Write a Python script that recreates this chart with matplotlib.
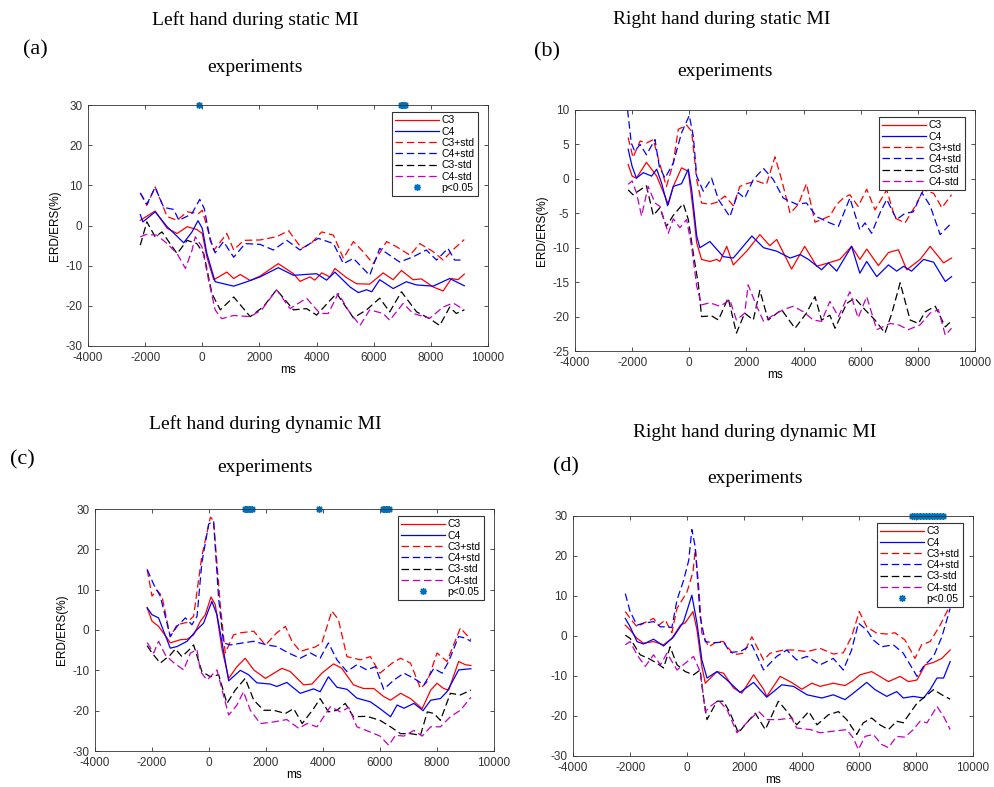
import matplotlib
matplotlib.use("Agg")
import matplotlib.pyplot as plt

# ---- panel (a): left hand, static MI ----
a_c3_t = [-2170, -1650, -1230, -880, -530, -190, 0, 160, 400, 860, 1100, 1330, 1680, 2020, 2660, 3190, 3420, 3770, 3940, 4180,
          4470, 4640, 5050, 5400, 5860, 6330, 6680, 6970, 7380, 7670, 8080, 8430, 8720, 8950, 9170]
a_c3 = [1.3, 3.6, -0.7, -2.0, -0.3, -1.0, -2.0, -7.8, -13.5, -11.6, -13.2, -12.2, -13.7, -12.6, -9.5, -12.0, -13.9, -12.8, -13.6, -11.8,
        -12.8, -10.7, -13.0, -14.5, -14.6, -11.8, -13.5, -11.2, -13.5, -13.3, -15.3, -16.3, -13.2, -13.5, -12.1]
a_c4_t = [-2170, -2080, -1650, -1230, -650, -360, -150, 0, 160, 450, 1100, 1560, 2020, 2660, 3190, 4000, 4350, 4640, 5170, 5460,
          5750, 5930, 6210, 6680, 7140, 7500, 8080, 8660, 9170]
a_c4 = [2.7, 0.9, 3.4, -0.3, -4.3, -1.6, 1.2, -0.7, -7.0, -14.0, -15.1, -14.0, -12.8, -10.5, -12.4, -12.0, -13.6, -11.6, -15.3, -16.7,
        -16.0, -16.5, -13.5, -15.7, -14.0, -14.8, -15.1, -13.2, -15.0]
a_c3p_t = [-2170, -1940, -1650, -1230, -880, -530, -130, 0, 400, 860, 1100, 1450, 2020, 2600, 3020, 3480, 3830, 4180, 4590, 4940,
           5290, 5640, 5980, 6450, 6800, 7270, 7610, 8080, 8430, 8780, 9170]
a_c3p = [8.1, 5.0, 9.6, 2.2, 1.3, 3.4, 3.0, 3.8, -6.2, -2.0, -6.1, -3.7, -3.6, -2.8, -1.3, -5.7, -4.3, -1.6, -2.4, -8.2,
         -4.0, -6.6, -9.5, -4.0, -5.3, -7.4, -4.5, -6.5, -8.6, -6.0, -3.5]
a_c4p_t = [-2170, -1940, -1650, -1350, -1000, -820, -530, -360, -90, 70, 280, 450, 740, 1100, 1500, 2020, 2490, 2960, 3420, 4060,
           4590, 4940, 5290, 5860, 6210, 6910, 7380, 7840, 8200, 8600, 8830, 9170]
a_c4p = [8.1, 5.3, 9.5, 4.5, 4.0, 1.3, 2.3, 3.0, 6.5, 4.2, -3.7, -6.8, -4.0, -7.9, -4.5, -4.7, -6.1, -3.7, -6.1, -3.2,
         -4.5, -9.5, -8.2, -12.4, -5.7, -9.1, -7.8, -6.1, -8.6, -5.7, -8.6, -8.6]
a_c3m_t = [-2170, -1940, -1650, -1410, -880, -530, -190, 50, 340, 630, 1100, 1680, 2140, 2600, 3190, 3650, 4000, 4700, 5290, 5750,
           6210, 6560, 6970, 7500, 7960, 8310, 8660, 8890, 9170]
a_c3m = [-4.9, 0.9, -2.8, -1.6, -7.0, -3.7, -4.5, -7.0, -17.0, -21.0, -17.8, -22.7, -20.2, -16.0, -21.0, -20.7, -22.3, -16.9, -23.0, -21.0,
         -18.1, -21.5, -16.5, -21.5, -23.2, -24.9, -20.3, -21.9, -21.0]
a_c4m_t = [-2170, -1940, -1590, -1230, -880, -590, -360, -245, -10, 220, 450, 680, 1100, 1680, 2080, 2600, 3070, 3650, 4120, 4410,
           4760, 5110, 5520, 5860, 6330, 6560, 7030, 7380, 7960, 8430, 8780, 9170]
a_c4m = [-2.8, -2.2, -2.4, -4.5, -7.0, -10.7, -6.2, -2.8, -5.3, -13.6, -21.0, -23.2, -22.4, -22.7, -21.0, -16.0, -20.7, -18.1, -21.9, -21.9,
         -16.9, -21.1, -24.9, -21.0, -21.9, -23.6, -19.4, -21.9, -23.1, -20.3, -19.3, -21.0]
a_p = [-100, 6950, 7000, 7050, 7100]

# ---- panel (b): right hand, static MI ----
b_c3_t = [-2140, -2000, -1850, -1500, -1140, -735, -560, -270, -35, 120, 260, 430, 720, 960, 1070, 1310, 1540, 2010, 2470, 2820,
          3060, 3580, 4040, 4460, 4870, 5270, 5680, 5970, 6210, 6620, 6970, 7320, 7610, 8080, 8430, 8900, 9180]
b_c3 = [2.1, 0.4, 0.1, 2.4, 0.4, -3.7, -1.1, 1.6, 1.1, -4.0, -9.3, -11.7, -12.0, -11.7, -12.0, -9.8, -12.5, -10.5, -8.1, -9.7,
        -8.8, -13.1, -9.8, -12.7, -12.2, -11.7, -9.8, -11.7, -10.2, -12.6, -10.7, -10.3, -13.2, -11.7, -9.8, -12.2, -11.5]
b_c4_t = [-2140, -2000, -1850, -1610, -1320, -1140, -970, -760, -560, -270, -35, 80, 260, 370, 720, 1190, 1540, 2190, 2600, 3060,
          3530, 3880, 4170, 4630, 4870, 5160, 5680, 5970, 6210, 6560, 6970, 7260, 7500, 7780, 8200, 8550, 8960, 9180]
b_c4 = [4.3, 1.8, 0.1, 0.9, 0.4, 1.4, -0.6, -3.9, -1.1, -0.7, 1.4, -1.5, -8.3, -10.0, -9.1, -11.3, -11.5, -8.3, -10.0, -10.5,
        -11.5, -11.0, -11.7, -13.2, -12.2, -13.4, -9.8, -13.7, -12.0, -14.2, -12.5, -13.4, -12.7, -13.4, -11.7, -12.1, -14.9, -14.2]
b_c3p_t = [-2140, -1970, -1720, -1500, -1260, -1030, -800, -560, -385, -95, 80, 260, 430, 720, 960, 1250, 1540, 1770, 2010, 2360,
           2700, 3000, 3230, 3530, 3820, 4100, 4400, 4920, 5160, 5390, 5620, 5910, 6210, 6500, 6910, 7200, 7550, 7900, 8200, 8550,
           8840, 9180]
b_c3p = [6.0, 3.1, 5.5, 5.2, 5.7, 2.1, -1.1, 2.3, 7.2, 7.8, 6.9, -0.1, -3.5, -3.7, -3.4, -2.5, -3.9, -1.1, -0.7, -0.3,
         -0.8, 3.2, -0.1, -5.0, -3.7, -0.7, -6.3, -5.4, -3.7, -2.8, -2.3, -4.0, -1.5, -4.5, -1.6, -5.7, -6.4, -4.0, -1.6, -2.1,
         -4.2, -2.3]
b_c4p_t = [-2160, -2030, -1910, -1720, -1500, -1200, -1050, -850, -560, -270, 0, 140, 260, 490, 780, 1020, 1420, 1710, 1940, 2240,
           2600, 2940, 3290, 3760, 4100, 4460, 4920, 5220, 5620, 5970, 6150, 6380, 6680, 6910, 7260, 7550, 7840, 8140, 8430, 8780,
           9180]
b_c4p = [10.0, 5.2, 4.0, 5.0, 3.5, 5.7, 1.8, 0.1, 2.3, 6.7, 9.2, 6.2, 0.4, -1.8, 0.1, -3.0, -5.5, -2.0, -2.8, -0.1,
         1.5, -0.1, -2.8, -3.7, -3.5, -5.5, -6.4, -6.9, -2.8, -7.4, -6.4, -7.9, -4.9, -3.0, -5.9, -5.0, -4.8, -2.0, -3.9, -8.1,
         -6.4]
b_c3m_t = [-2140, -1970, -1720, -1500, -1260, -1030, -800, -560, -210, -35, 140, 320, 430, 780, 1020, 1360, 1650, 1940, 2240, 2470,
           2760, 3230, 3700, 4100, 4400, 4630, 4920, 5100, 5510, 5790, 6150, 6500, 6850, 7090, 7380, 7730, 8020, 8260, 8610, 8960,
           9180]
b_c3m = [-1.6, -2.3, -1.6, -1.0, -5.3, -4.2, -6.9, -5.3, -3.6, -5.9, -10.8, -15.4, -20.0, -19.9, -20.5, -17.3, -22.4, -19.5, -20.5, -16.2,
         -20.5, -19.0, -21.7, -19.5, -17.1, -20.5, -19.8, -21.7, -18.1, -17.3, -19.0, -20.5, -22.4, -19.5, -15.1, -20.5, -21.0, -19.3, -18.5, -21.5,
         -20.6]
b_c4m_t = [-2140, -2000, -1850, -1670, -1440, -1200, -1030, -735, -560, -330, -95, 80, 260, 430, 720, 1070, 1420, 1650, 1940, 2060,
           2360, 2600, 2940, 3290, 3640, 3990, 4340, 4630, 4920, 5220, 5620, 5910, 6210, 6560, 7030, 7320, 7670, 8080, 8430, 8720,
           8960, 9180]
b_c4m = [-0.8, -0.3, -2.0, -5.4, -1.1, -3.5, -4.0, -7.9, -5.8, -7.1, -5.9, -9.8, -15.6, -18.3, -18.0, -18.5, -17.6, -20.5, -19.5, -15.4,
         -18.5, -20.7, -19.8, -19.0, -18.5, -19.3, -20.5, -20.7, -17.8, -20.0, -16.4, -20.2, -17.1, -21.9, -21.0, -21.2, -21.9, -21.2, -19.5, -19.0,
         -22.7, -21.7]
b_p = []

# ---- panel (c): left hand, dynamic MI ----
c_c3_t = [-2170, -2000, -1770, -1470, -1360, -1000, -770, -540, -300, -130, 70, 220, 460, 690, 980, 1270, 1570, 1980, 2560, 2850,
          3320, 3610, 3960, 4370, 4660, 5070, 5420, 5780, 6130, 6370, 6720, 7070, 7480, 7780, 8000, 8230, 8410, 8760, 8990, 9190]
c_c3 = [5.5, 2.2, 0.9, -2.0, -3.2, -2.4, -2.3, -1.2, 2.2, 3.8, 8.2, 6.3, -4.9, -12.0, -9.1, -7.0, -9.9, -12.0, -9.5, -10.3,
        -13.6, -13.4, -10.7, -8.4, -9.5, -13.6, -14.5, -14.5, -16.5, -17.4, -15.7, -17.0, -19.5, -14.9, -13.2, -14.5, -14.9, -7.8, -8.6, -8.8]
c_c4_t = [-2170, -2000, -1770, -1360, -1120, -770, -420, -190, 100, 280, 460, 690, 1100, 1390, 1680, 2150, 2380, 2730, 3200, 3670,
          3900, 4190, 4490, 4840, 5190, 5660, 6000, 6370, 6600, 6840, 7190, 7510, 7780, 8120, 8350, 8760, 9190]
c_c4 = [5.5, 3.8, 3.0, -4.5, -4.1, -2.8, 0.1, 1.7, 7.1, 3.8, -3.2, -12.6, -10.0, -11.1, -13.1, -13.4, -14.0, -13.0, -15.7, -14.6,
        -15.3, -11.6, -14.2, -14.7, -16.9, -17.8, -19.5, -21.5, -18.6, -19.4, -18.2, -20.0, -17.4, -17.0, -15.3, -9.9, -9.6]
c_c3p_t = [-2170, -2000, -1830, -1650, -1360, -1120, -770, -540, -250, 50, 160, 400, 570, 860, 1100, 1570, 1980, 2380, 2680, 2910,
           3200, 3730, 3960, 4310, 4540, 4840, 5310, 5660, 6000, 6430, 6720, 7070, 7420, 7660, 8000, 8350, 8820, 9190]
c_c3p = [15.0, 8.4, 9.9, 8.4, -1.7, 1.3, 1.9, 3.4, 18.4, 28.0, 27.1, 5.9, -5.7, -1.2, -0.7, -0.3, -3.7, -0.7, 0.9, -2.8,
         -5.3, -4.2, -3.2, 4.7, 2.6, -6.6, -7.4, -6.6, -10.7, -8.2, -7.0, -8.2, -14.5, -12.8, -5.7, -7.8, 0.5, -2.4]
c_c4p_t = [-2170, -1940, -1710, -1360, -1120, -830, -600, -420, -250, -10, 160, 340, 510, 750, 1100, 1570, 2030, 2380, 2790, 3200,
           3560, 3900, 4190, 4490, 4840, 5190, 5540, 5840, 6130, 6490, 6840, 7190, 7540, 7890, 8180, 8410, 8760, 8990, 9190]
c_c4p = [15.0, 11.3, 8.4, -1.6, 0.9, 3.0, 1.3, 3.4, 16.7, 26.3, 27.0, 7.6, -3.2, -3.7, -3.3, -2.8, -3.7, -4.1, -5.7, -7.0,
         -5.7, -7.0, -3.2, -7.4, -10.3, -8.6, -9.9, -9.1, -14.7, -12.4, -10.7, -12.0, -13.6, -9.5, -10.7, -7.8, -1.6, -2.0, -2.8]
c_c3m_t = [-2170, -2000, -1710, -1360, -1180, -950, -710, -540, -250, 50, 340, 630, 920, 1270, 1570, 1920, 2270, 2680, 2970, 3270,
           3670, 3900, 4190, 4490, 4780, 5070, 5540, 6000, 6370, 6720, 7070, 7420, 7660, 7890, 8120, 8470, 8820, 9190]
c_c3m = [-3.9, -5.7, -8.2, -6.2, -4.7, -6.6, -5.0, -3.7, -10.3, -11.6, -11.1, -18.2, -14.9, -12.0, -17.4, -19.9, -19.9, -20.7, -19.5, -23.2,
         -19.5, -17.0, -20.3, -19.9, -18.2, -21.5, -21.4, -22.4, -24.0, -25.7, -25.7, -26.1, -20.3, -20.7, -22.4, -15.7, -16.1, -14.9]
c_c4m_t = [-2170, -1940, -1770, -1530, -1240, -890, -650, -420, -300, -70, 280, 460, 690, 980, 1210, 1450, 1800, 2270, 2730, 3150,
           3440, 3790, 4260, 4610, 4900, 5190, 5660, 6000, 6310, 6540, 6840, 7190, 7480, 7780, 8120, 8470, 8820, 9190]
c_c4m = [-3.1, -5.7, -2.8, -6.2, -8.1, -9.9, -5.7, -4.9, -10.3, -12.4, -9.9, -14.9, -21.1, -18.6, -15.3, -19.9, -23.2, -22.8, -22.2, -24.4,
         -23.2, -24.0, -19.0, -20.3, -19.2, -24.0, -25.3, -26.3, -28.6, -26.1, -26.3, -24.9, -26.3, -24.0, -24.0, -21.5, -19.9, -16.7]
c_p = [1250, 1300, 1350, 1400, 1450, 1500, 3850, 6100, 6150, 6200, 6250, 6300]

# ---- panel (d): right hand, dynamic MI ----
d_c3_t = [-2170, -2000, -1760, -1530, -1180, -830, -540, -240, -70, 200, 340, 510, 630, 1040, 1270, 1620, 1910, 2320, 2670, 2780,
          3250, 3650, 4010, 4360, 4650, 5110, 5520, 5810, 6050, 6450, 6740, 7040, 7450, 7740, 8040, 8330, 8620, 8910, 9200]
d_c3 = [2.7, 1.5, -0.6, -1.8, -1.4, -2.2, -0.6, 2.7, 3.3, 6.1, 1.5, -7.6, -11.8, -8.9, -9.3, -13.0, -14.3, -9.7, -13.3, -15.1,
        -10.1, -11.6, -13.3, -11.8, -12.6, -11.8, -12.4, -11.1, -9.7, -8.9, -10.1, -11.4, -10.1, -11.4, -11.0, -7.2, -6.6, -5.6, -3.5]
d_c4_t = [-2170, -2000, -1760, -1530, -1180, -830, -480, -130, 160, 340, 510, 690, 1040, 1390, 1850, 2320, 2780, 3310, 3720, 4190,
          4710, 5110, 5520, 5810, 6280, 6570, 6980, 7330, 7560, 7910, 8270, 8500, 8740, 8970, 9200]
d_c4 = [4.4, 2.3, -1.4, -2.0, -0.8, -2.5, -0.2, 3.6, 10.2, 3.2, -6.0, -10.5, -8.9, -11.0, -14.1, -11.6, -15.3, -12.2, -12.6, -14.7,
        -15.5, -14.7, -15.9, -14.3, -11.6, -13.4, -15.1, -13.9, -15.5, -15.1, -15.5, -13.4, -10.5, -10.5, -6.4]
d_c3p_t = [-2170, -2000, -1760, -1530, -1180, -1000, -770, -540, -360, -10, 200, 280, 400, 510, 750, 1040, 1270, 1620, 1970, 2260,
           2670, 2900, 3370, 3720, 4190, 4650, 5110, 5460, 5750, 6020, 6280, 6630, 6980, 7270, 7620, 7970, 8200, 8500, 8850, 9200]
d_c3p = [6.1, 4.4, 2.3, 3.2, 4.4, 2.7, 4.0, 0.8, 6.9, 11.0, 16.0, 21.8, 12.3, 0.7, -2.7, -1.4, -1.4, -4.7, -4.3, -0.2,
         -6.0, -4.3, -3.5, -3.5, -3.9, -3.1, -4.5, -4.2, -0.2, 6.1, 2.3, 0.7, 0.5, 0.8, -1.0, -5.6, -2.2, -1.4, 2.7, 7.7]
d_c4p_t = [-2170, -2000, -1760, -1530, -1180, -940, -710, -540, -360, -130, 50, 160, 280, 450, 630, 920, 1270, 1500, 1850, 2260,
           2670, 3130, 3480, 3830, 4190, 4650, 5110, 5460, 5750, 5990, 6280, 6510, 6800, 7210, 7560, 8040, 8270, 8620, 8910, 9200]
d_c4p = [10.6, 6.1, 2.7, 3.2, 3.6, 2.3, 2.3, 2.1, 9.0, 13.9, 18.9, 26.6, 22.2, 4.8, -1.4, -1.7, -1.5, -4.1, -3.9, -2.2,
         -8.5, -5.1, -3.5, -6.0, -5.1, -7.2, -5.6, -8.5, -3.5, 3.2, 1.5, -1.0, -2.7, -2.2, -4.3, -10.1, -7.6, -5.1, -0.2, 6.9]
d_c3m_t = [-2170, -2000, -1650, -1360, -1060, -830, -600, -360, -70, 220, 450, 570, 690, 1040, 1270, 1500, 1790, 2080, 2380, 2730,
           3190, 3540, 3830, 4250, 4540, 4940, 5290, 5580, 5930, 6160, 6450, 6740, 7040, 7330, 7560, 7790, 8040, 8330, 8620, 8910,
           9200]
d_c3m = [0.2, -0.6, -4.7, -5.6, -6.8, -8.0, -2.7, -7.2, -8.9, -9.7, -8.5, -15.5, -20.9, -16.3, -16.3, -19.3, -24.2, -21.7, -19.3, -23.4,
         -16.3, -19.3, -22.2, -18.9, -22.2, -19.7, -18.9, -20.9, -24.6, -21.7, -20.5, -22.2, -23.4, -21.3, -21.7, -19.3, -16.8, -15.1, -13.4, -14.7,
         -15.8]
d_c4m_t = [-2170, -2000, -1760, -1470, -1180, -940, -710, -360, -70, 220, 450, 630, 800, 1100, 1390, 1740, 2080, 2490, 2780, 3190,
           3650, 3830, 4310, 4650, 5110, 5580, 5810, 5990, 6220, 6510, 6800, 7040, 7330, 7620, 7910, 8150, 8390, 8740, 8970, 9200]
d_c4m = [-2.2, -1.4, -4.7, -7.6, -4.7, -7.2, -4.3, -8.5, -6.8, -5.1, -8.9, -18.9, -17.6, -16.1, -18.4, -24.2, -21.7, -18.8, -20.9, -20.9,
         -20.5, -23.0, -23.4, -24.2, -23.8, -23.4, -25.5, -28.4, -25.1, -24.6, -27.1, -27.9, -25.1, -25.3, -23.4, -21.3, -21.7, -17.6, -20.1, -23.4]
d_p = [7850, 7950, 8050, 8150, 8250, 8350, 8450, 8550, 8650, 8750, 8850, 8950]

labels = ["C3", "C4", "C3+std", "C4+std", "C3-std", "C4-std"]
styles = [("r", "-"), ("b", "-"), ("r", "--"), ("b", "--"), ("k", "--"), ("m", "--")]
star_color = (0, 0.447, 0.741)

plt.rcParams["font.family"] = ["Liberation Sans", "DejaVu Sans"]
plt.rcParams["axes.unicode_minus"] = False
W, H = 994, 787
fig = plt.figure(figsize=(W / 100, H / 100), dpi=100)


def px_axes(l, t, r, b):
    return fig.add_axes([l / W, 1 - b / H, (r - l) / W, (b - t) / H])


def draw_panel(ax, series, p_times, ylim, yticks, ylabel=True):
    for (t, v), lab, (c, ls) in zip(series, labels, styles):
        line, = ax.plot(t, v, color=c, linestyle=ls, lw=0.9, label=lab)
        if ls == "--":
            line.set_dashes((6, 3))
    if p_times:
        ax.plot(p_times, [ylim[1]] * len(p_times), linestyle="none", marker=(8, 2, 0),
                color=star_color, markersize=5, markeredgewidth=1, clip_on=False, label="p<0.05")
    ax.set_xlim(-4000, 10000)
    ax.set_ylim(*ylim)
    ax.set_xticks(range(-4000, 10001, 2000))
    ax.set_yticks(yticks)
    ax.tick_params(direction="in", top=True, right=True, length=3, width=0.6,
                   labelsize=8.5, colors="#333333")
    ax.tick_params(axis="x", pad=4.5)
    ax.tick_params(axis="y", pad=4)
    for s in ax.spines.values():
        s.set_linewidth(0.6)
        s.set_color("#333333")
    ax.set_xlabel("ms", fontsize=8.5, labelpad=0)
    if ylabel:
        ax.set_ylabel("ERD/ERS(%)", fontsize=8.5, labelpad=3)
    leg = ax.legend(loc="upper right", bbox_to_anchor=(0.975, 0.97), fontsize=7.5,
                    handlelength=4.2, handletextpad=0.3, labelspacing=0.12,
                    borderpad=0.3, borderaxespad=0, fancybox=False, framealpha=1)
    leg.get_frame().set_edgecolor("#333333")
    leg.get_frame().set_linewidth(0.8)


ax_a = px_axes(88, 105, 488, 346)
draw_panel(ax_a, [(a_c3_t, a_c3), (a_c4_t, a_c4), (a_c3p_t, a_c3p), (a_c4p_t, a_c4p),
                  (a_c3m_t, a_c3m), (a_c4m_t, a_c4m)], a_p, (-30, 30), range(-30, 31, 10))

ax_b = px_axes(575, 110, 975, 351)
draw_panel(ax_b, [(b_c3_t, b_c3), (b_c4_t, b_c4), (b_c3p_t, b_c3p), (b_c4p_t, b_c4p),
                  (b_c3m_t, b_c3m), (b_c4m_t, b_c4m)], b_p, (-25, 10), range(-25, 11, 5))

ax_c = px_axes(95, 509, 494, 751)
draw_panel(ax_c, [(c_c3_t, c_c3), (c_c4_t, c_c4), (c_c3p_t, c_c3p), (c_c4p_t, c_c4p),
                  (c_c3m_t, c_c3m), (c_c4m_t, c_c4m)], c_p, (-30, 30), range(-30, 31, 10))

ax_d = px_axes(573, 516, 973, 756)
draw_panel(ax_d, [(d_c3_t, d_c3), (d_c4_t, d_c4), (d_c3p_t, d_c3p), (d_c4p_t, d_c4p),
                  (d_c3m_t, d_c3m), (d_c4m_t, d_c4m)], d_p, (-30, 30), range(-30, 31, 10), ylabel=False)

# titles and panel letters (serif, as in the paper)
serif = ["Liberation Serif", "DejaVu Serif"]


def ftext(x, y, s, size=14, ha="center"):
    fig.text(x / W, 1 - y / H, s, fontsize=size, family=serif, ha=ha, va="center")


ftext(255, 20, "Left hand during static MI")
ftext(255, 67, "experiments")
ftext(35, 50, "(a)", 16)
ftext(722, 20, "Right hand during static MI")
ftext(725, 71, "experiments")
ftext(547, 52, "(b)", 16)
ftext(265, 424, "Left hand during dynamic MI")
ftext(265, 468, "experiments")
ftext(22, 460, "(c)", 16)
ftext(755, 432, "Right hand during dynamic MI")
ftext(755, 478, "experiments")
ftext(566, 467, "(d)", 16)

fig.savefig("out.png", dpi=100, facecolor="white")
